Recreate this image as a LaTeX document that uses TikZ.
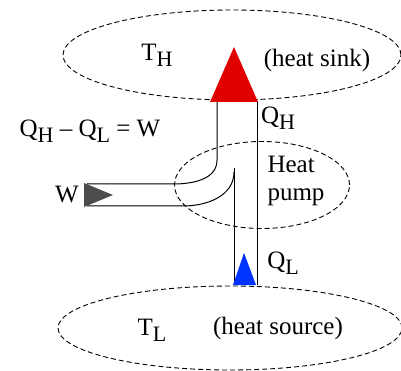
\documentclass[tikz,border=0pt]{standalone}
\usepackage{fontspec}
\setmainfont{Liberation Serif}
\usetikzlibrary{positioning, shapes.geometric}

\newcommand{\subs}[1]{\raisebox{-0.25em}{\fontsize{22}{22}\selectfont #1}}

\begin{document}
\begin{tikzpicture}[
    x=1pt, y=-1pt,
    every node/.style={font=\fontsize{25}{28}\selectfont, inner sep=0pt},
    reservoir/.style={ellipse, draw, dashed, dash pattern=on 5pt off 3pt, line width=0.9pt},
    pipe/.style={line width=1pt}
]
    \useasboundingbox (0,0) rectangle (401,371);

    % Place the nodes
    \node[reservoir, minimum width=338pt, minimum height=90pt] (sink) at (232,55) {};
    \node[reservoir, minimum width=344pt, minimum height=84pt] (source) at (230,328) {};
    \node[reservoir, minimum width=175pt, minimum height=87pt] (pump) at (262,185) {};

    \node (th) at (157,55) {T\subs{H}};
    \node (sinklbl) at (317,60) {(heat sink)};
    \node (tl) at (152,330) {T\subs{L}};
    \node (sourcelbl) at (278,328) {(heat source)};
    \node (qh) at (278,118) {Q\subs{H}};
    \node (ql) at (283,263) {Q\subs{L}};
    \node (balance) at (90,131) {Q\subs{H} -- Q\subs{L} = W};
    \node[align=left] (pumplbl) at (296,181) {Heat\\pump};
    \node (w) at (67,195) {W};

    % Corner points of the pipes
    \coordinate (hotL) at (217,102);
    \coordinate (hotR) at (257,102);
    \coordinate (coldL) at (234,285);
    \coordinate (coldR) at (257,285);
    \coordinate (workT) at (87,184);
    \coordinate (workB) at (87,206);

    % Draw the pipes
    \draw[pipe] (hotR) -- (coldR);
    \draw[pipe] (hotL) -- (217,160) to[out=-90,in=0] (173,184) -- (workT);
    \draw[pipe] (coldL) -- (234,168);
    \draw[pipe] (234,172) to[out=-90,in=0] (183,206) -- (workB);

    % Arrow heads
    \fill[red!88!black] (210,102) -- (234,47) -- (258,102) -- cycle;
    \fill[blue!80!cyan] (233,285) -- (244,253) -- (256,285) -- cycle;
    \fill[black!70] (84,183) -- (113,195) -- (84,207) -- cycle;
\end{tikzpicture}
\end{document}
